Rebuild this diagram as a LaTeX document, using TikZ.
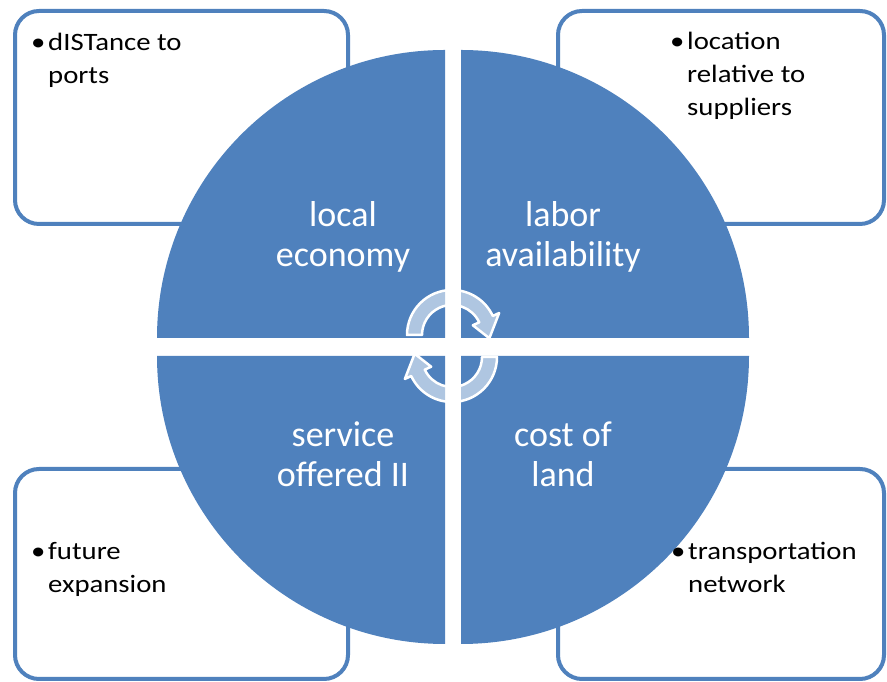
\documentclass[tikz,border=0pt]{standalone}
\usepackage{fontspec}
\setmainfont{Carlito}
\newfontfamily\smallfnt[FakeStretch=1.15]{Carlito}
\definecolor{accent}{RGB}{79,129,189}
\newcommand{\bul}{\makebox[17pt][l]{•}}
\newcommand{\ind}{\hspace*{17pt}}
\begin{document}
\begin{tikzpicture}[x=1pt,y=1pt,
  infobox/.style={draw=accent, line width=4pt, fill=white, rounded corners=24pt},
  quad/.style={fill=accent},
  bigtext/.style={text=white, font=\fontsize{36}{40}\selectfont, align=center, inner sep=0pt, anchor=base},
  smalltext/.style={text=black, font=\smallfnt\fontsize{25}{33}\selectfont, align=left, inner sep=0pt, anchor=base west},
  cyclearrow/.style={fill=white, fill opacity=0.55, draw=white, draw opacity=1, line width=2.5pt, line join=round}]
\useasboundingbox (0,0) rectangle (887,682);
% corner boxes
\draw[infobox] (15,458) rectangle (348,671);
\draw[infobox] (558,458) rectangle (884,671);
\draw[infobox] (15,3) rectangle (348,213);
\draw[infobox] (558,3) rectangle (884,213);
% quadrants
\fill[quad] (445,344) -- (157,344) arc[start angle=180, end angle=90, radius=288] -- cycle;
\fill[quad] (461,344) -- (749,344) arc[start angle=0, end angle=90, radius=288] -- cycle;
\fill[quad] (445,326) -- (157,326) arc[start angle=180, end angle=270, radius=288] -- cycle;
\fill[quad] (461,326) -- (749,326) arc[start angle=0, end angle=-90, radius=288] -- cycle;
% cycle arrows
\begin{scope}[shift={(452,347)}]
\draw[cyclearrow] (180:45) arc[start angle=180, end angle=25, radius=45]
  -- (25:52) -- (-5:37.5) -- (25:23) -- (25:30)
  arc[start angle=25, end angle=180, radius=30] -- cycle;
\end{scope}
\begin{scope}[shift={(452,325)}, rotate=180]
\draw[cyclearrow] (180:45) arc[start angle=180, end angle=25, radius=45]
  -- (25:52) -- (-5:37.5) -- (25:23) -- (25:30)
  arc[start angle=25, end angle=180, radius=30] -- cycle;
\end{scope}
% quadrant labels (anchor = baseline of last line)
\node[bigtext] (le) at (343,415) {local\\economy};
\node[bigtext] (la) at (563,415) {labor\\availability};
\node[bigtext] (so) at (343,195) {service\\offered II};
\node[bigtext] (cl) at (563,195) {cost of\\land};
% box texts
\node[smalltext] (tdist) at (31,598) {\bul dISTance to\\\ind ports};
\node[smalltext] (tloc) at (670,566) {\bul location\\\ind relative to\\\ind suppliers};
\node[smalltext] (tfut) at (31,89) {\bul future\\\ind expansion};
\node[smalltext] (ttra) at (671,89) {\bul transportation\\\ind network};
\end{tikzpicture}
\end{document}
